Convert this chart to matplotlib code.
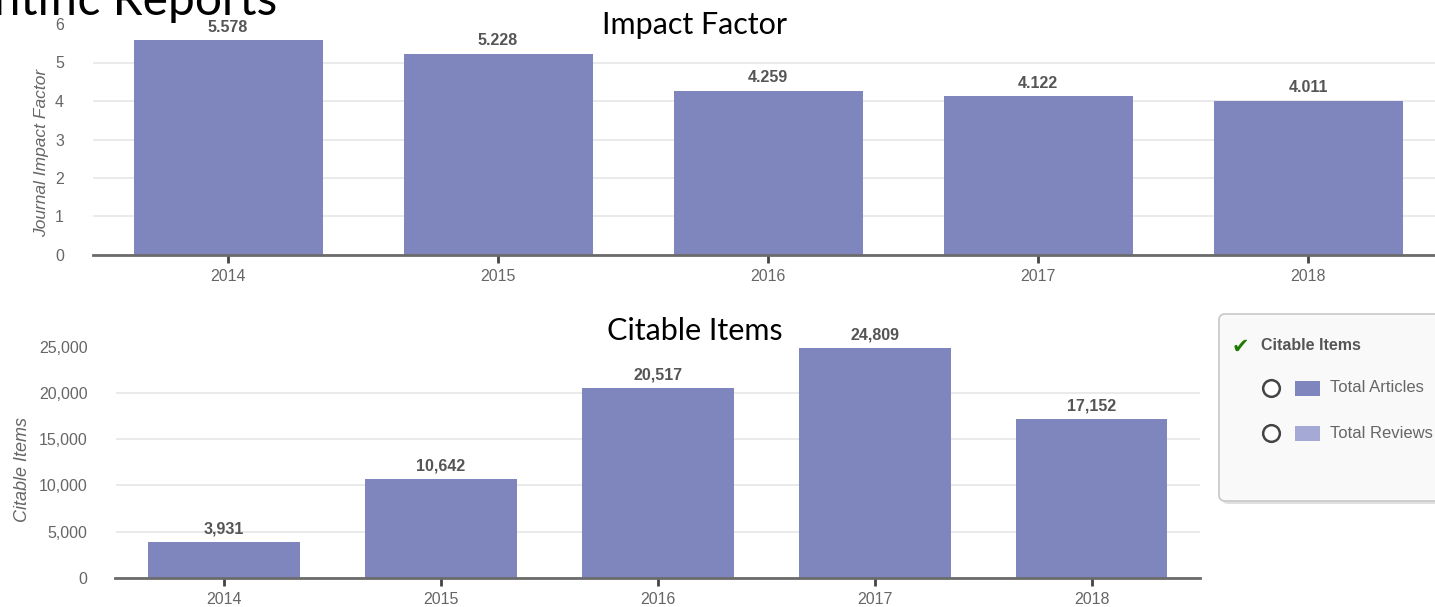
import matplotlib
matplotlib.use("Agg")
import matplotlib.pyplot as plt
from matplotlib.patches import FancyBboxPatch, Rectangle
from matplotlib.lines import Line2D
from matplotlib.ticker import FuncFormatter

# data
years = ["2014", "2015", "2016", "2017", "2018"]
impact_factor = [5.578, 5.228, 4.259, 4.122, 4.011]
citable_items = [3931, 10642, 20517, 24809, 17152]
if_ticks = [0, 1, 2, 3, 4, 5, 6]
ci_ticks = [0, 5000, 10000, 15000, 20000, 25000]

bar_color = "#7f85bd"
review_color = "#a4a9d6"
W, H = 1435, 607

plt.rcParams["font.family"] = ["Liberation Sans", "DejaVu Sans"]
fig = plt.figure(figsize=(W / 100, H / 100), dpi=100)


def px_axes(left, right, top, bottom):
    return fig.add_axes([left / W, 1 - bottom / H, (right - left) / W, (bottom - top) / H])


def style(ax, ticks, ymax, fmt):
    ax.set_ylim(0, ymax)
    ax.set_xlim(-0.5, len(years) - 0.5)
    ax.set_yticks(ticks)
    ax.yaxis.set_major_formatter(FuncFormatter(fmt))
    ax.set_xticks(range(len(years)))
    ax.set_xticklabels(years)
    for s in ["top", "right", "left"]:
        ax.spines[s].set_visible(False)
    ax.spines["bottom"].set_color("#6b6b6b")
    ax.spines["bottom"].set_linewidth(2)
    ax.tick_params(axis="y", length=0, pad=20, labelsize=11.5, labelcolor="#666666")
    ax.tick_params(axis="x", length=6, width=2, color="#444444", pad=4,
                   labelsize=11.5, labelcolor="#666666")
    ax.yaxis.grid(True, color="#e6e6e6", linewidth=1.2)
    ax.set_axisbelow(True)
    ax.get_ygridlines()[-1].set_visible(False)


# top chart: impact factor
ax1 = px_axes(93, 1443, 24, 255)
ax1.bar(range(len(years)), impact_factor, width=0.7, color=bar_color)
style(ax1, if_ticks, 6, lambda v, p: f"{v:.0f}")
ax1.tick_params(axis="y", pad=21)
for i, v in enumerate(impact_factor):
    ax1.annotate(f"{v:.3f}", (i, v), xytext=(0, 4), textcoords="offset points",
                 ha="center", va="bottom", fontsize=11.5, fontweight="bold", color="#555555")

# bottom chart: citable items
ax2 = px_axes(115.5, 1200, 346.5, 578)
ax2.bar(range(len(years)), citable_items, width=0.7, color=bar_color)
style(ax2, ci_ticks, 25000, lambda v, p: f"{v:,.0f}")
for i, v in enumerate(citable_items):
    ax2.annotate(f"{v:,}", (i, v), xytext=(0, 4), textcoords="offset points",
                 ha="center", va="bottom", fontsize=11.5, fontweight="bold", color="#555555")

# axis titles
fig.text(42 / W, 1 - 153 / H, "Journal Impact Factor", rotation=90, ha="center", va="center",
         fontsize=12.5, style="italic", color="#666666")
fig.text(23 / W, 1 - 470 / H, "Citable Items", rotation=90, ha="center", va="center",
         fontsize=13, style="italic", color="#666666")

# titles
fig.text(695 / W, 1 - 25 / H, "Impact Factor", ha="center", va="center",
         fontsize=22, family="Lato", color="black")
fig.text(695 / W, 1 - 331 / H, "Citable Items", ha="center", va="center",
         fontsize=22, family="Lato", color="black")
fig.text(277 / W, 1 - 15 / H, "Scientific Reports", ha="right", va="baseline",
         fontsize=34.5, family="Lato", color="black")

# legend box overlay in pixel coordinates
ov = fig.add_axes([0, 0, 1, 1], zorder=5)
ov.set_xlim(0, W)
ov.set_ylim(H, 0)
ov.axis("off")
shadow = FancyBboxPatch((1222, 317), 260, 187, boxstyle="round,pad=0,rounding_size=6",
                        facecolor="#000000", alpha=0.12, edgecolor="none")
ov.add_patch(shadow)
box = FancyBboxPatch((1219, 314), 260, 187, boxstyle="round,pad=0,rounding_size=6",
                     facecolor="#f9f9fa", edgecolor="#c8c8c8", linewidth=1.2)
ov.add_patch(box)
ov.text(1240, 347, "\u2714", ha="center", va="center", fontsize=15, color="#1f7a00",
        family="DejaVu Sans")
ov.text(1261, 345, "Citable Items", ha="left", va="center", fontsize=11.5,
        fontweight="bold", color="#555555")
for y, c, lab in [(388, bar_color, "Total Articles"), (433, review_color, "Total Reviews")]:
    ov.add_line(Line2D([1271], [y], marker="o", markersize=12, markerfacecolor="white",
                       markeredgecolor="#444444", markeredgewidth=1.8))
    ov.add_patch(Rectangle((1295, y - 7.5), 25, 15, facecolor=c, edgecolor="none"))
    ov.text(1330, y, lab, ha="left", va="center", fontsize=12, color="#666666")

fig.savefig("out.png", dpi=100)
